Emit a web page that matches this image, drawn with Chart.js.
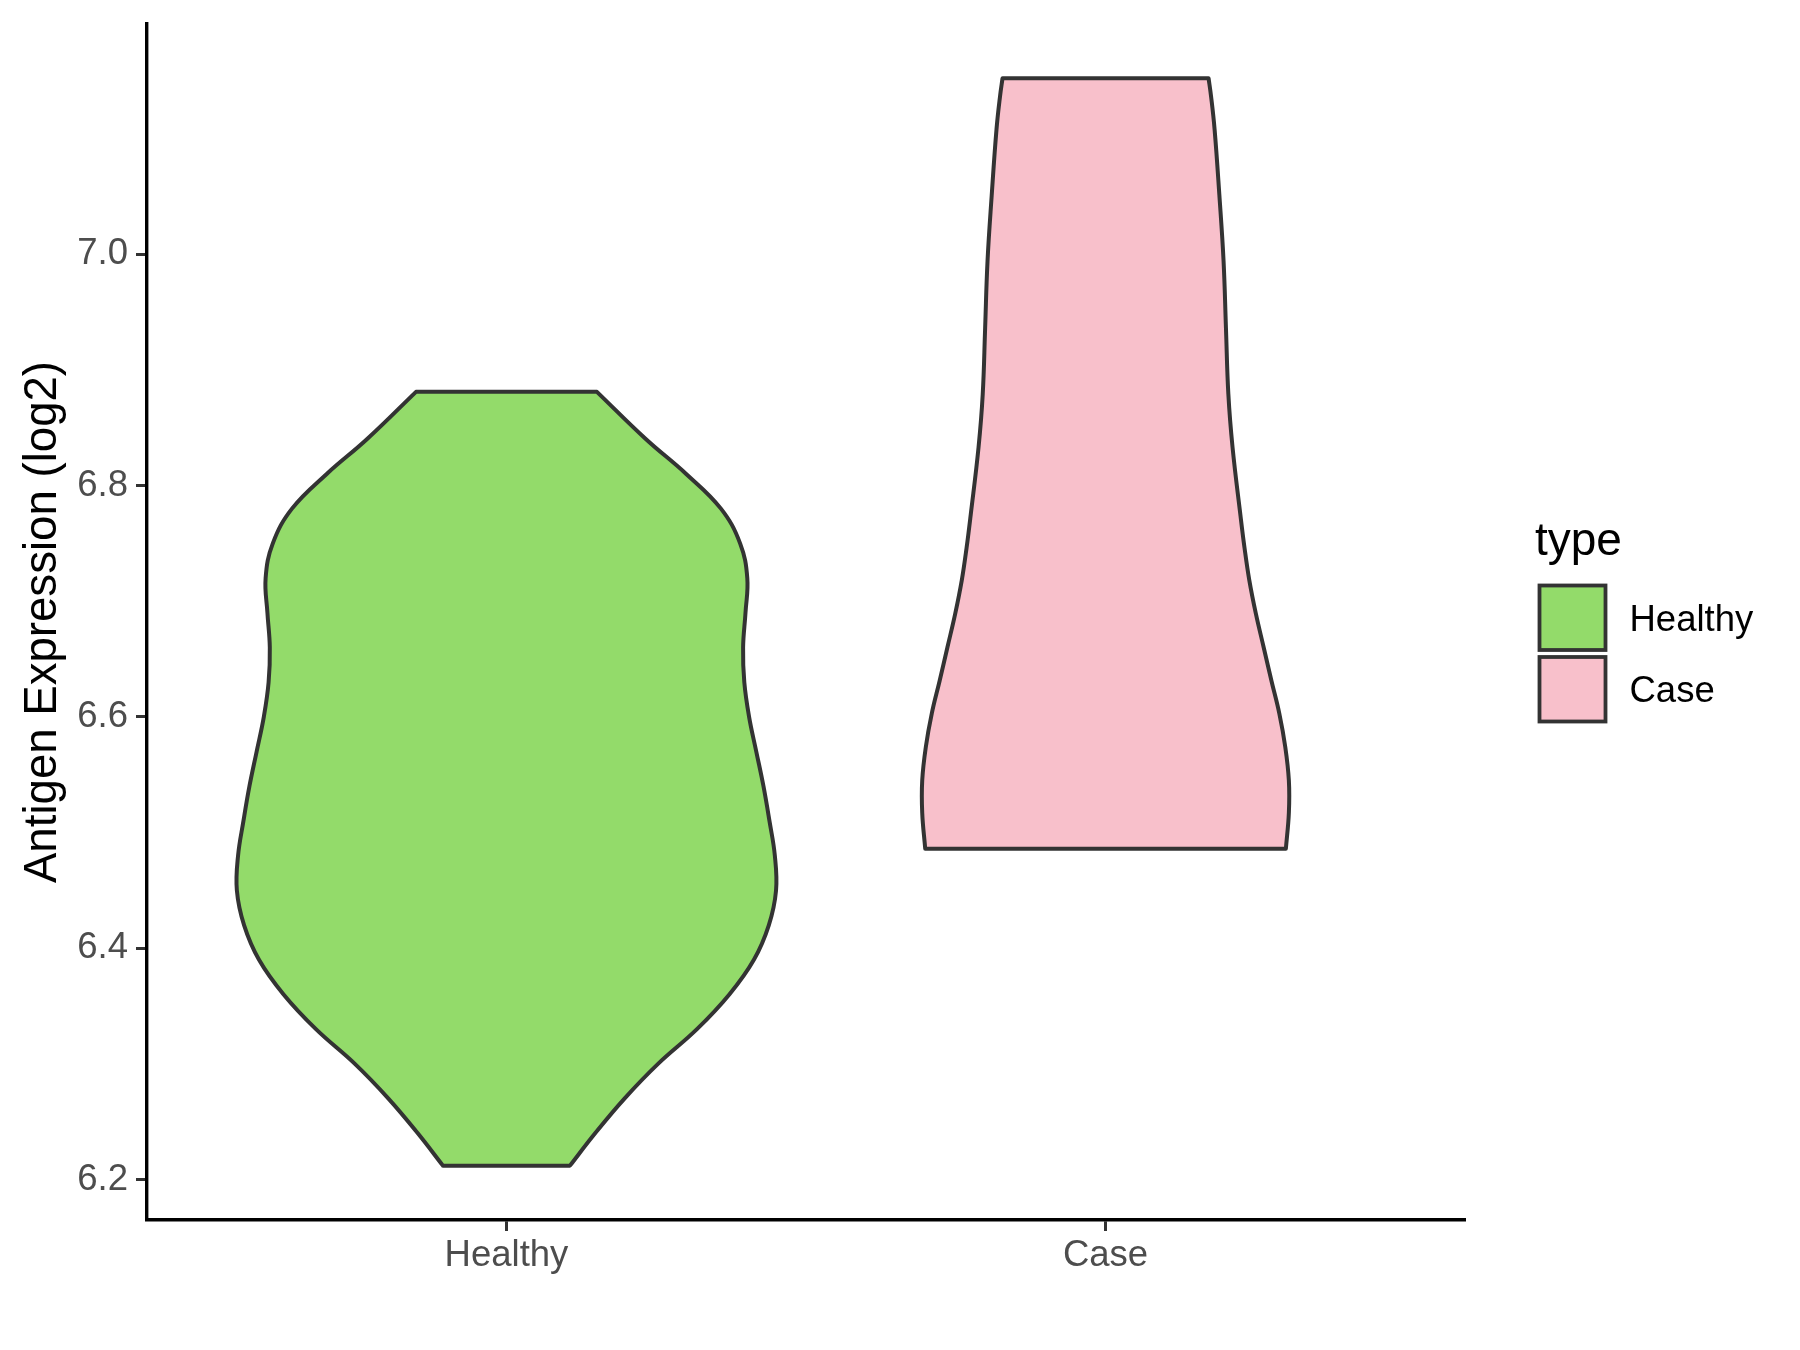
<!DOCTYPE html>
<html>
<head>
<meta charset="utf-8">
<script src="https://cdn.jsdelivr.net/npm/chart.js@4.4.0/dist/chart.umd.min.js"></script>
<style>
html, body { margin: 0; padding: 0; background: #fff; }
#wrap { width: 1800px; height: 1350px; }
</style>
</head>
<body>
<div id="wrap"><canvas id="violin" width="1800" height="1350"></canvas></div>
<script>
// groups and their place on the discrete x axis
var categories = ['Healthy', 'Case'];
var positions = [1, 2];

// violin outlines: expression level (bottom -> top) and half width in x units
var healthyLevels = [6.212, 6.24, 6.27, 6.30, 6.33, 6.36, 6.39, 6.42, 6.45, 6.48, 6.51, 6.54,
    6.57, 6.60, 6.63, 6.66, 6.69, 6.72, 6.75, 6.78, 6.81, 6.84, 6.881];
var healthyHalfWidths = [0.106, 0.148, 0.197, 0.253, 0.318, 0.372, 0.413, 0.438, 0.450, 0.448, 0.439, 0.429,
    0.417, 0.405, 0.397, 0.395, 0.399, 0.402, 0.390, 0.358, 0.300, 0.233, 0.151];

var caseLevels = [6.486, 6.517, 6.545, 6.574, 6.603, 6.631, 6.660, 6.689, 6.718, 6.746, 6.775,
    6.833, 6.879, 6.936, 6.994, 7.051, 7.108, 7.137, 7.152];
var caseHalfWidths = [0.301, 0.306, 0.306, 0.300, 0.290, 0.277, 0.264, 0.251, 0.240, 0.232, 0.225,
    0.212, 0.205, 0.201, 0.197, 0.190, 0.182, 0.176, 0.172];

var yTicks = [6.2, 6.4, 6.6, 6.8, 7.0];
var fillColors = ['#93DB6A', '#F8C0CB'];

var FONT = '"Liberation Sans", Arial, Helvetica, sans-serif';
Chart.defaults.font.family = FONT;

// left side going up, right side coming down; corners doubled so the flat ends stay straight
function outline(pos, levels, widths) {
    var left = levels.map(function(y, i) { return {x: pos - widths[i], y: y}; });
    var right = levels.map(function(y, i) { return {x: pos + widths[i], y: y}; }).reverse();
    var pts = [left[0]].concat(left);
    pts.push(left[left.length - 1]);
    pts.push(right[0]);
    pts = pts.concat(right);
    pts.push(right[right.length - 1]);
    pts.push(left[0]);
    return pts;
}

function violin(i, levels, widths) {
    return {
        label: categories[i],
        data: outline(positions[i], levels, widths),
        backgroundColor: fillColors[i],
        borderColor: '#333333',
        borderWidth: 4,
        borderCapStyle: 'round',
        borderJoinStyle: 'round',
        fill: 'shape',
        tension: 0.4,
        pointRadius: 0,
        pointHoverRadius: 0
    };
}

var typeLegend = {
    id: 'typeLegend',
    afterDraw: function(chart) {
        var ctx = chart.ctx;
        var area = chart.chartArea;
        var x0 = area.right + 73;
        var cy = (area.top + area.bottom) / 2;
        ctx.save();
        ctx.fillStyle = '#000000';
        ctx.textAlign = 'left';
        ctx.textBaseline = 'alphabetic';
        ctx.font = '46px ' + FONT;
        ctx.fillText('type', x0 - 3, cy - 67);
        categories.forEach(function(name, i) {
            var top = cy - 36.5 + i * 71.5;
            ctx.fillStyle = fillColors[i];
            ctx.fillRect(x0 + 1.5, top, 66, 64.5);
            ctx.strokeStyle = '#333333';
            ctx.lineWidth = 3.8;
            ctx.strokeRect(x0 + 1.5, top, 66, 64.5);
            ctx.fillStyle = '#000000';
            ctx.font = '36.5px ' + FONT;
            ctx.fillText(name, x0 + 91.5, top + 45);
        });
        ctx.restore();
    }
};

new Chart(document.getElementById('violin').getContext('2d'), {
    type: 'line',
    data: {
        datasets: [
            violin(0, healthyLevels, healthyHalfWidths),
            violin(1, caseLevels, caseHalfWidths)
        ]
    },
    options: {
        responsive: false,
        animation: false,
        events: [],
        layout: {
            padding: {left: 0, right: 335, top: 24, bottom: 0}
        },
        plugins: {
            legend: {display: false},
            tooltip: {enabled: false}
        },
        scales: {
            x: {
                type: 'linear',
                min: 0.4,
                max: 2.6,
                afterBuildTicks: function(scale) {
                    scale.ticks = positions.map(function(p) { return {value: p}; });
                },
                afterFit: function(scale) {
                    scale.height = 130;
                    scale.paddingLeft = 0;
                    scale.paddingRight = 0;
                },
                grid: {
                    display: true,
                    drawOnChartArea: false,
                    drawTicks: true,
                    tickLength: 11,
                    tickWidth: 3,
                    tickColor: '#333333'
                },
                border: {display: true, color: '#000000', width: 3.4},
                ticks: {
                    color: '#4D4D4D',
                    font: {size: 36.5},
                    padding: 3,
                    maxRotation: 0,
                    autoSkip: false,
                    callback: function(value) {
                        var i = positions.indexOf(value);
                        return i >= 0 ? categories[i] : '';
                    }
                }
            },
            y: {
                type: 'linear',
                min: 6.165,
                max: 7.199,
                afterBuildTicks: function(scale) {
                    scale.ticks = yTicks.map(function(v) { return {value: v}; });
                },
                afterFit: function(scale) {
                    scale.width = 147;
                    scale.paddingTop = 0;
                    scale.paddingBottom = 0;
                },
                grid: {
                    display: true,
                    drawOnChartArea: false,
                    drawTicks: true,
                    tickLength: 11,
                    tickWidth: 3,
                    tickColor: '#333333'
                },
                border: {display: true, color: '#000000', width: 3.4},
                ticks: {
                    color: '#4D4D4D',
                    font: {size: 36.5},
                    padding: 8,
                    autoSkip: false,
                    callback: function(value) {
                        return value.toFixed(1);
                    }
                },
                title: {
                    display: true,
                    text: 'Antigen Expression (log2)',
                    color: '#000000',
                    font: {size: 45.6},
                    padding: {top: 16, bottom: 0}
                }
            }
        }
    },
    plugins: [typeLegend]
});
</script>
</body>
</html>
